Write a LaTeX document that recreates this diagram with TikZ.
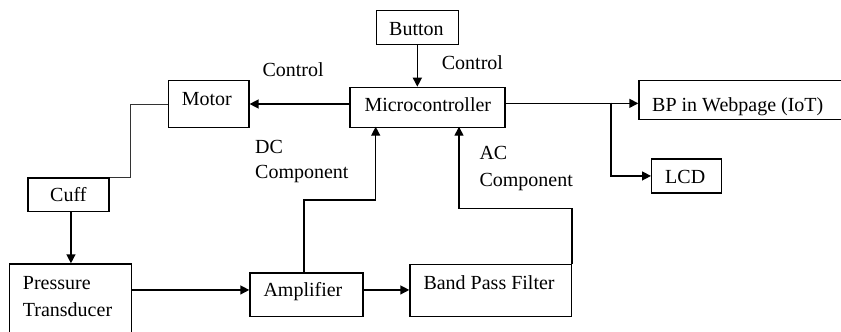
\documentclass[tikz,border=0pt]{standalone}
\usepackage{fontspec}
\setmainfont{Liberation Serif}
\usetikzlibrary{arrows.meta}
\begin{document}
\begin{tikzpicture}[x=1pt,y=-1pt,
  box/.style={draw, line width=1.3pt, inner sep=0pt, anchor=north west},
  txt/.style={anchor=base west, inner sep=0pt, font=\fontsize{20}{24}\selectfont},
  wire/.style={line width=1.4pt},
  arr/.style={wire, -{Triangle[length=9pt,width=9pt]}},
  thinwire/.style={line width=0.8pt, black!80}]
\clip (0,0) rectangle (841,332);

% blocks
\node[box, minimum width=82pt,    minimum height=34pt]   (button) at (375.7,9.5)   {};
\node[box, minimum width=155pt,   minimum height=40pt]   (micro)  at (349.3,86.7)  {};
\node[box, minimum width=80.6pt,  minimum height=46.7pt] (motor)  at (167.7,80)    {};
\node[box, minimum width=210pt,   minimum height=39pt]   (bp)     at (638.3,80)    {};
\node[box, minimum width=69.7pt,  minimum height=34pt]   (lcd)    at (651,158.3)   {};
\node[box, minimum width=81pt,    minimum height=33.7pt] (cuff)   at (27.3,177.3)  {};
\node[box, minimum width=121.7pt, minimum height=75pt]   (pt)     at (9,263.3)     {};
\node[box, minimum width=113pt,   minimum height=43.4pt] (amp)    at (249.3,272.3) {};
\node[box, minimum width=161.4pt, minimum height=51.7pt] (bpf)    at (409.3,264)   {};

% block texts
\node[txt] (tbutton) at (389,35.7)    {Button};
\node[txt] (tmicro)  at (364.3,111.7) {Microcontroller};
\node[txt] (tmotor)  at (181.7,105.3) {Motor};
\node[txt] (tbp)     at (652,111)     {BP in Webpage (IoT)};
\node[txt] (tlcd)    at (665,183.3)   {LCD};
\node[txt] (tcuff)   at (50,201.7)    {Cuff};
\node[txt] (tpt1)    at (22.7,289.3)  {Pressure};
\node[txt] (tpt2)    at (22.7,316)    {Transducer};
\node[txt] (tamp)    at (263.3,296.7) {Amplifier};
\node[txt] (tbpf)    at (423.3,289.3) {Band Pass Filter};

% signal labels
\node[txt] (lctl1) at (262.3,76)   {Control};
\node[txt] (lctl2) at (441.7,69)   {Control};
\node[txt] (ldc1)  at (255,153)    {DC};
\node[txt] (ldc2)  at (255,178)    {Component};
\node[txt] (lac1)  at (479.3,159.3) {AC};
\node[txt] (lac2)  at (479.3,186.7) {Component};

% junction points
\coordinate (mcout) at ([yshift=4pt]micro.east);
\coordinate (br)    at (611,102.7);
\coordinate (dcin)  at (375.7,126.7);
\coordinate (acin)  at (459,126.7);
\coordinate (ampin) at ([yshift=4.7pt]amp.west);

% connectors
\draw[arr] (button.south) -- (button.south |- micro.north);
\draw[arr] (micro.west |- motor.east) -- (motor.east);
\draw[arr] (mcout) -- (mcout -| bp.west);
\draw[arr] (br) |- (lcd.west);
\draw[thinwire] (motor.west) -- ++(-37.7,0) |- (cuff.north east);
\draw[arr] ([xshift=2.5pt]cuff.south) -- ([xshift=2.5pt]cuff.south |- pt.north);
\draw[arr] (pt.east |- ampin) -- (ampin);
\draw[arr] (amp.east |- ampin) -- (bpf.west |- ampin);
\draw[arr] ([xshift=-2.5pt]amp.north) -- ++(0,-72.3) -| (dcin);
\draw[arr] (bpf.north east) -- ++(0,-55.7) -| (acin);
\end{tikzpicture}
\end{document}
